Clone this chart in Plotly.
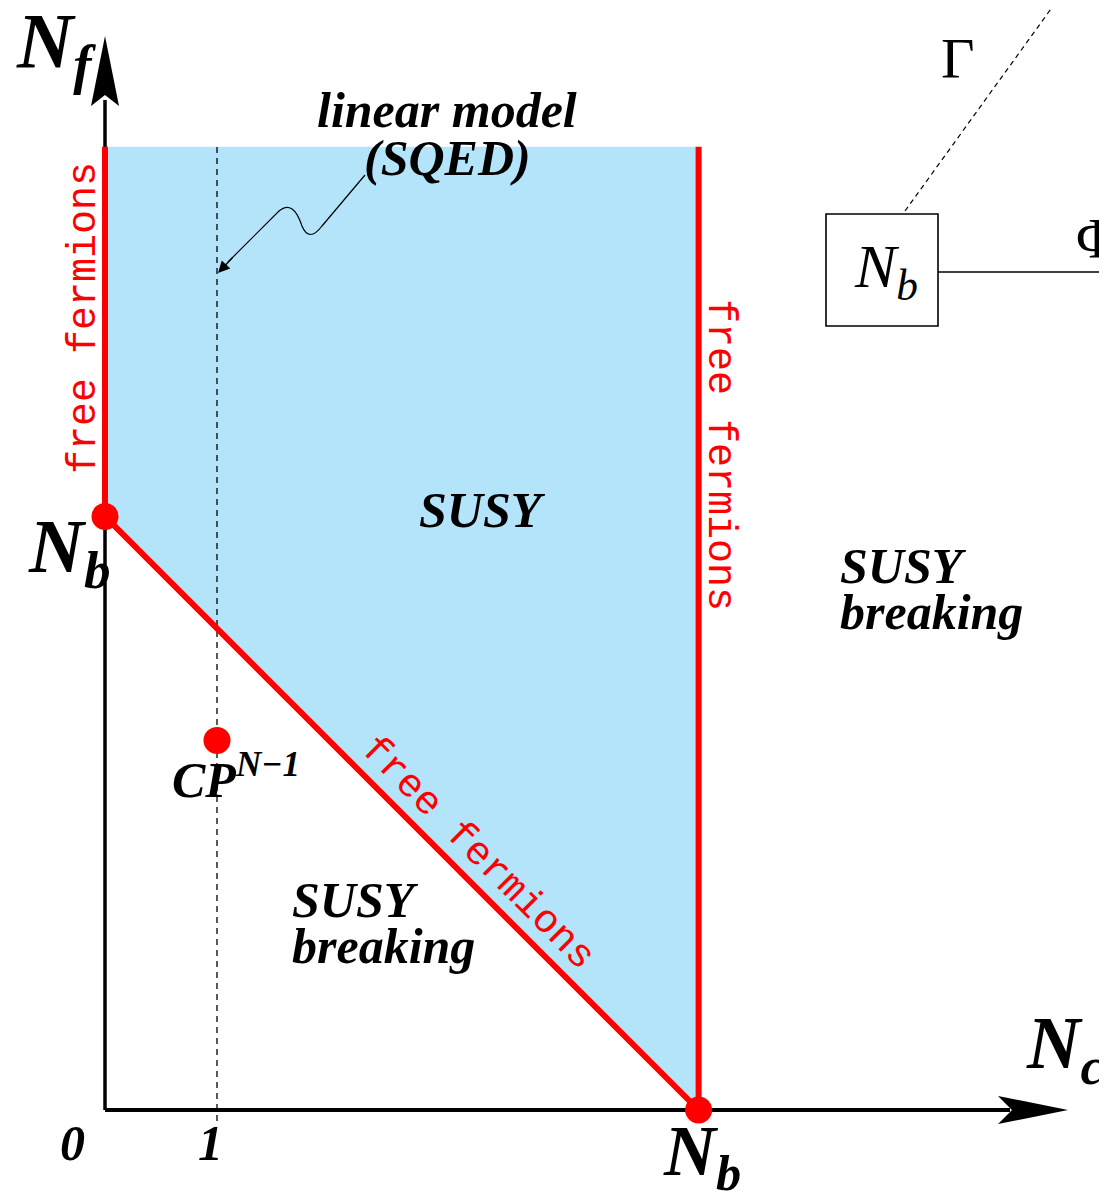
import plotly.graph_objects as go

# ---------------- data ----------------
Nb = 5.3                 # N_b value on both axes
Nf_top = 8.6             # top of the SUSY region drawn
sqed_x = 1               # linear model (SQED) line at N_c = 1
cp_x = [1]               # CP^{N-1} point
cp_y = [3.3]
tick_vals = [0, 1]
tick_text = ["0", "1"]
endpoints_x = [0, Nb]    # red endpoints on the axes
endpoints_y = [Nb, 0]

# ---------------- geometry helpers (screen pixel layout -> data) ----------------
W, H = 1107, 1196
PAD = 8                  # default page body margin
U = 112.0
X0, Y0 = 105.0, 1110.0
def dx(px): return (px - X0) / U
def dy(py): return (Y0 - py) / U

SERIF = "Liberation Serif, Times New Roman, serif"
MONO = "Liberation Mono, Courier New, monospace"
RED = "#ff0000"
BLUE = "#b4e4fa"

fig = go.Figure()

# SUSY region
fig.add_trace(go.Scatter(
    x=[0, 0, Nb, Nb, 0], y=[Nf_top, Nb, 0, Nf_top, Nf_top],
    fill="toself", fillcolor=BLUE, line=dict(width=0), mode="lines",
    hoverinfo="skip", showlegend=False))

# SQED dashed line
fig.add_trace(go.Scatter(
    x=[sqed_x, sqed_x], y=[dy(1121), Nf_top], mode="lines",
    line=dict(color="black", width=1.3, dash="6px,5px"),
    hoverinfo="skip", showlegend=False))

# axes
fig.add_trace(go.Scatter(x=[0, 0], y=[0, dy(100)], mode="lines",
                         line=dict(color="black", width=3.5),
                         hoverinfo="skip", showlegend=False))
fig.add_trace(go.Scatter(x=[0, dx(1010)], y=[0, 0], mode="lines",
                         line=dict(color="black", width=4),
                         hoverinfo="skip", showlegend=False))

# red free-fermion lines
fig.add_trace(go.Scatter(x=[0, 0], y=[Nb, Nf_top], mode="lines",
                         line=dict(color=RED, width=6),
                         hoverinfo="skip", showlegend=False))
fig.add_trace(go.Scatter(x=[0, Nb], y=[Nb, 0], mode="lines",
                         line=dict(color=RED, width=6),
                         hoverinfo="skip", showlegend=False))
fig.add_trace(go.Scatter(x=[Nb, Nb], y=[0, Nf_top], mode="lines",
                         line=dict(color=RED, width=6),
                         hoverinfo="skip", showlegend=False))

# red dots
fig.add_trace(go.Scatter(x=endpoints_x + cp_x, y=endpoints_y + cp_y, mode="markers",
                         marker=dict(color=RED, size=27, line=dict(width=0)),
                         hoverinfo="skip", showlegend=False))

def P(px, py):
    return f"{dx(px):.4f},{dy(py):.4f}"

shapes = []
# arrowheads
shapes.append(dict(type="path", xref="x", yref="y",
                   path=f"M {P(105,36)} L {P(119,106)} L {P(105,95)} L {P(91,106)} Z",
                   fillcolor="black", line=dict(width=0)))
shapes.append(dict(type="path", xref="x", yref="y",
                   path=f"M {P(1068,1110)} L {P(998,1096)} L {P(1012,1110)} L {P(998,1124)} Z",
                   fillcolor="black", line=dict(width=0)))
# squiggly pointer
shapes.append(dict(type="path", xref="x", yref="y",
                   path=(f"M {P(365,175)} L {P(322,226)} Q {P(309,243)} {P(302,226)} "
                         f"Q {P(293,199)} {P(279,211)} L {P(228,262)}"),
                   line=dict(color="black", width=1.2)))
# quiver box
shapes.append(dict(type="rect", xref="x", yref="y",
                   x0=dx(826), x1=dx(938), y0=dy(326), y1=dy(214),
                   line=dict(color="black", width=1.6)))
shapes.append(dict(type="line", xref="x", yref="y",
                   x0=dx(938), x1=dx(1115), y0=dy(272), y1=dy(272),
                   line=dict(color="black", width=1.6)))
shapes.append(dict(type="line", xref="x", yref="y",
                   x0=dx(905), x1=dx(1061), y0=dy(211), y1=dy(-5),
                   line=dict(color="black", width=1.2, dash="5px,4px")))

ann = []
def T(text, px, py, size, color="black", font=SERIF, angle=0, xanchor="center"):
    ann.append(dict(text=text, x=dx(px), y=dy(py), xref="x", yref="y",
                    showarrow=False, textangle=angle, xanchor=xanchor, yanchor="middle",
                    font=dict(family=font, size=size, color=color)))

# axis labels
T("<b><i>N<sub>f</sub></i></b>", 56, 46, 78)
T("<b><i>N<sub>c</sub></i></b>", 1064, 1048, 74)
T("<b><i>N<sub>b</sub></i></b>", 69, 552, 76)
T("<b><i>N<sub>b</sub></i></b>", 702, 1156, 72)
for v, t, px in zip(tick_vals, tick_text, [72, 210]):
    T(f"<b><i>{t}</i></b>", px, 1143, 50)

# region labels
T("<b><i>linear model</i></b>", 447, 110, 50)
T("<b><i>(SQED)</i></b>", 447, 158, 50)
T("<b><i>SUSY</i></b>", 482, 510, 50)
T("<b><i>SUSY</i></b>", 838, 566, 50, xanchor="left")
T("<b><i>breaking</i></b>", 838, 612, 50, xanchor="left")
T("<b><i>SUSY</i></b>", 290, 900, 50, xanchor="left")
T("<b><i>breaking</i></b>", 290, 946, 50, xanchor="left")
T("<b><i>CP<sup>N−1</sup></i></b>", 236, 776, 50)

# free fermions
T("free fermions", 84, 318, 40, color=RED, font=MONO, angle=-90)
T("free fermions", 720, 455, 40, color=RED, font=MONO, angle=90)
T("free fermions", 478, 853, 40, color=RED, font=MONO, angle=45)

# quiver
T("<i>N<sub>b</sub></i>", 886, 270, 62)
T("Γ", 958, 58, 58)
T("Φ", 1097, 238, 58)

# pointer arrowhead
ann.append(dict(text="", x=dx(218), y=dy(273), ax=dx(234), ay=dy(256),
                xref="x", yref="y", axref="x", ayref="y", showarrow=True,
                arrowhead=2, arrowsize=1.8, arrowwidth=1.3, arrowcolor="black"))

FW, FH = W - PAD, H - PAD
fig.update_layout(
    width=FW, height=FH, margin=dict(l=0, r=0, t=0, b=0),
    paper_bgcolor="white", plot_bgcolor="white",
    xaxis=dict(range=[dx(PAD), dx(PAD + FW)], visible=False, fixedrange=True),
    yaxis=dict(range=[dy(PAD + FH), dy(PAD)], visible=False, fixedrange=True),
    shapes=shapes, annotations=ann, showlegend=False)

fig.write_html("out.html")
